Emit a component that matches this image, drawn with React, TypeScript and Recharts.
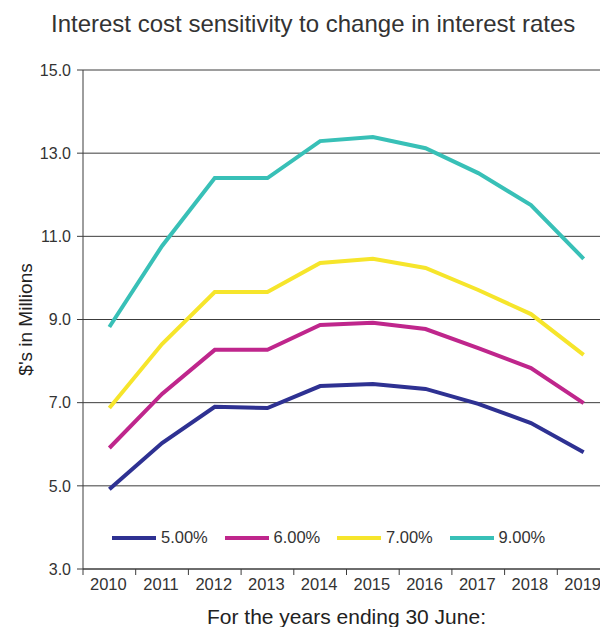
import React from 'react';
import { LineChart, Line, XAxis, YAxis, CartesianGrid, Legend } from 'recharts';

const years = ['2010', '2011', '2012', '2013', '2014', '2015', '2016', '2017', '2018', '2019'];
const rate5 = [4.92, 6.03, 6.9, 6.87, 7.4, 7.45, 7.33, 6.97, 6.51, 5.81];
const rate6 = [5.91, 7.21, 8.27, 8.27, 8.87, 8.92, 8.77, 8.31, 7.83, 6.99];
const rate7 = [6.87, 8.41, 9.66, 9.66, 10.36, 10.46, 10.24, 9.71, 9.13, 8.15];
const rate9 = [8.82, 10.77, 12.4, 12.4, 13.29, 13.39, 13.12, 12.52, 11.75, 10.46];
const yTicks = [3, 5, 7, 9, 11, 13, 15];

const series = [
  { key: 'r5', name: '5.00%', color: '#2e3192', values: rate5 },
  { key: 'r6', name: '6.00%', color: '#bf268c', values: rate6 },
  { key: 'r7', name: '7.00%', color: '#f6e52b', values: rate7 },
  { key: 'r9', name: '9.00%', color: '#38c0b7', values: rate9 },
];

const data = years.map((year, i) => {
  const row: Record<string, string | number> = { year };
  series.forEach(s => { row[s.key] = s.values[i]; });
  return row;
});

const FONT = '"Liberation Sans", Arial, Helvetica, sans-serif';
const TEXT = '#333333';
const LINE = '#3c3c3c';
const HALF_BAND = 26.35;

// year label in the middle of its band, tick mark on the band's left edge
function YearTick({ x, y, payload }: any) {
  return (
    <g>
      <line x1={x - HALF_BAND} x2={x - HALF_BAND} y1={y - 9} y2={y - 3} stroke={LINE} />
      <text x={x - 1} y={y} dy="0.71em" textAnchor="middle" fill={TEXT} fontSize={16.5} fontFamily={FONT}>
        {payload.value}
      </text>
    </g>
  );
}

// legend drawn as a row of short line swatches
function LegendRow({ payload }: any) {
  return (
    <div style={{ display: 'flex', fontFamily: FONT }}>
      {(payload || []).map((item: any) => (
        <div key={item.value} style={{ display: 'flex', alignItems: 'center', width: 112.5 }}>
          <div style={{ width: 44, height: 4, background: item.color, marginRight: 5 }} />
          <span style={{ fontSize: 16.5, color: TEXT }}>{item.value}</span>
        </div>
      ))}
    </div>
  );
}

export default function App() {
  return (
    <div style={{ position: 'absolute', left: 0, top: 0, width: 600, height: 627, overflow: 'hidden', background: '#fff', fontFamily: FONT }}>
      <div style={{ position: 'absolute', left: 51, top: 12, fontSize: 24, lineHeight: '24px', color: TEXT, whiteSpace: 'nowrap' }}>
        Interest cost sensitivity to change in interest rates
      </div>
      <LineChart width={620} height={627} data={data} margin={{ top: 70, right: 10, bottom: 0, left: 0 }}>
        <CartesianGrid horizontal vertical={false} stroke={LINE} strokeOpacity={1} />
        <XAxis
          dataKey="year"
          scale="band"
          height={58}
          tickSize={6}
          tickMargin={3}
          axisLine={{ stroke: LINE }}
          tickLine={{ stroke: 'none' }}
          tick={<YearTick />}
          interval={0}
          label={{ value: 'For the years ending 30 June:', position: 'insideBottom', offset: 3, fill: '#222', fontSize: 21, fontFamily: FONT }}
        />
        <YAxis
          width={83}
          domain={[3, 15]}
          ticks={yTicks}
          interval={0}
          tickSize={6}
          tickMargin={6}
          tickFormatter={(v: number) => v.toFixed(1)}
          axisLine={{ stroke: LINE }}
          tickLine={{ stroke: LINE }}
          tick={{ fill: TEXT, fontSize: 16, fontFamily: FONT }}
          label={{ value: "$'s in Millions", angle: -90, position: 'insideLeft', offset: 25, fill: '#222', fontSize: 19, fontFamily: FONT, style: { textAnchor: 'middle' } }}
        />
        <Legend
          layout="horizontal"
          verticalAlign="middle"
          align="center"
          content={<LegendRow />}
          wrapperStyle={{ left: 112, top: 528, width: 460 }}
        />
        {series.map(s => (
          <Line
            key={s.key}
            type="linear"
            dataKey={s.key}
            name={s.name}
            stroke={s.color}
            strokeWidth={4}
            dot={false}
            activeDot={false}
            isAnimationActive={false}
          />
        ))}
      </LineChart>
    </div>
  );
}
